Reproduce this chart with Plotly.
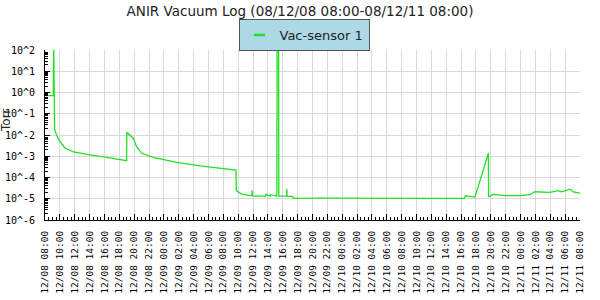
import plotly.graph_objects as go

# ---- data ----
times = [
    "2008-12-08 08:00", "2008-12-08 08:16", "2008-12-08 09:07", "2008-12-08 09:10",
    "2008-12-08 09:18", "2008-12-08 09:47", "2008-12-08 10:41", "2008-12-08 11:49",
    "2008-12-08 14:04", "2008-12-08 16:18", "2008-12-08 18:59", "2008-12-08 19:01",
    "2008-12-08 19:53", "2008-12-08 20:20", "2008-12-08 21:01", "2008-12-08 22:34",
    "2008-12-09 01:43", "2008-12-09 04:52", "2008-12-09 07:33", "2008-12-09 09:42",
    "2008-12-09 09:45", "2008-12-09 10:28", "2008-12-09 11:35", "2008-12-09 11:50",
    "2008-12-09 11:52", "2008-12-09 11:55", "2008-12-09 12:56", "2008-12-09 13:40",
    "2008-12-09 13:42", "2008-12-09 14:20", "2008-12-09 14:22", "2008-12-09 15:12",
    "2008-12-09 15:14", "2008-12-09 15:26", "2008-12-09 15:28", "2008-12-09 16:18",
    "2008-12-09 16:32", "2008-12-09 16:33", "2008-12-09 16:35", "2008-12-09 17:20",
    "2008-12-09 17:24", "2008-12-09 21:00", "2008-12-10 00:10", "2008-12-10 00:20",
    "2008-12-10 04:00", "2008-12-10 08:00", "2008-12-10 12:00", "2008-12-10 16:28",
    "2008-12-10 16:34", "2008-12-10 17:52", "2008-12-10 19:40", "2008-12-10 19:42",
    "2008-12-10 20:17", "2008-12-10 21:55", "2008-12-10 23:56", "2008-12-11 01:16",
    "2008-12-11 01:56", "2008-12-11 03:58", "2008-12-11 05:02", "2008-12-11 05:32",
    "2008-12-11 06:39", "2008-12-11 07:06", "2008-12-11 08:00",
]
torr = [
    7.1e-1, 7.1e-1, 7.1e-1, 2.0e2,
    1.74e-2, 6.5e-3, 2.45e-3, 1.62e-3,
    1.15e-3, 8.9e-4, 6.2e-4, 1.35e-2,
    6.9e-3, 2.8e-3, 1.38e-3, 8.9e-4,
    5.2e-4, 3.5e-4, 2.7e-4, 2.24e-4,
    2.4e-5, 1.66e-5, 1.41e-5, 1.41e-5,
    2.5e-5, 1.35e-5, 1.33e-5, 1.33e-5,
    1.6e-5, 1.32e-5, 1.55e-5, 1.32e-5,
    3.0e2, 3.0e2, 1.32e-5, 1.32e-5,
    1.32e-5, 2.9e-5, 1.3e-5, 1.3e-5,
    1.05e-5, 1.07e-5, 1.05e-5, 1.12e-5,
    1.05e-5, 1.06e-5, 1.05e-5, 1.05e-5,
    1.38e-5, 1.2e-5, 1.38e-3, 1.2e-5,
    1.62e-5, 1.41e-5, 1.41e-5, 1.55e-5,
    2.14e-5, 2.0e-5, 2.4e-5, 2.1e-5,
    2.8e-5, 2.1e-5, 1.82e-5,
]
series_name = "Vac-sensor 1"
title_text = "ANIR Vacuum Log (08/12/08 08:00-08/12/11 08:00)"
x_start, x_end = "2008-12-08 08:00", "2008-12-11 08:00"
decades = [-6, -5, -4, -3, -2, -1, 0, 1, 2]
y_tickvals = [10.0 ** d for d in decades]
y_ticktext = ["10^%d" % d for d in decades]
y_minor = [m * 10.0 ** d for d in decades[:-1] for m in range(2, 10)]

GREEN = "#22e022"

fig = go.Figure()
fig.add_trace(go.Scatter(
    x=times, y=torr, mode="lines", showlegend=False,
    line=dict(color=GREEN, width=1.3),
))
# legend entry (short dash symbol, like the reference)
fig.add_trace(go.Scatter(
    x=[None], y=[None], mode="markers", name=series_name,
    marker=dict(symbol="line-ew-open", size=8, color=GREEN,
                line=dict(color=GREEN, width=2.5)),
))

fig.update_layout(
    width=600, height=300,
    margin=dict(l=45, r=20, t=50, b=80, autoexpand=False),
    paper_bgcolor="white", plot_bgcolor="white",
    title=dict(text=title_text, x=0.5, xref="container", xanchor="center",
               y=1 - 11 / 300, yref="container", yanchor="middle",
               font=dict(family="DejaVu Sans", size=13.5, color="#222")),
    legend=dict(x=304 / 600, xref="container", xanchor="center",
                y=1 - 19 / 300, yref="container", yanchor="top",
                orientation="h", bgcolor="#add8e6", bordercolor="#555",
                borderwidth=1, font=dict(family="DejaVu Sans", size=13, color="#222"),
                itemwidth=30, tracegroupgap=0),
    showlegend=True,
)
fig.update_xaxes(
    type="date", range=[x_start, x_end], automargin=False,
    tick0=x_start, dtick=2 * 3600 * 1000, tickformat="%m/%d %H:%M",
    tickangle=-90, ticks="inside", ticklen=6, tickcolor="black",
    ticklabelstandoff=6,
    tickfont=dict(family="DejaVu Sans Mono", size=9.5, color="black"),
    showgrid=True, gridcolor="#d9d9d9", gridwidth=1,
    showline=True, linecolor="black", linewidth=1,
    minor=dict(dtick=30 * 60 * 1000, ticks="inside", ticklen=3, tickcolor="black", showgrid=False),
    zeroline=False,
)
fig.update_yaxes(
    type="log", range=[-6, 2], automargin=False,
    tickvals=y_tickvals, ticktext=y_ticktext,
    ticks="inside", ticklen=5, tickcolor="black", tickwidth=1,
    ticklabelstandoff=7,
    tickfont=dict(family="DejaVu Sans Mono", size=10, color="black"),
    showgrid=True, gridcolor="#d9d9d9", gridwidth=1,
    showline=True, linecolor="black", linewidth=1,
    minor=dict(tickvals=y_minor, ticks="inside", ticklen=3, tickcolor="black", showgrid=False),
    zeroline=False,
)
fig.add_annotation(text="Torr", xref="paper", yref="paper",
                   x=(6 - 45) / 535, y=(220 - 121) / 170, xanchor="center", yanchor="middle",
                   textangle=-90, showarrow=False,
                   font=dict(family="DejaVu Sans", size=12, color="#222"))

fig.write_html("out.html")
